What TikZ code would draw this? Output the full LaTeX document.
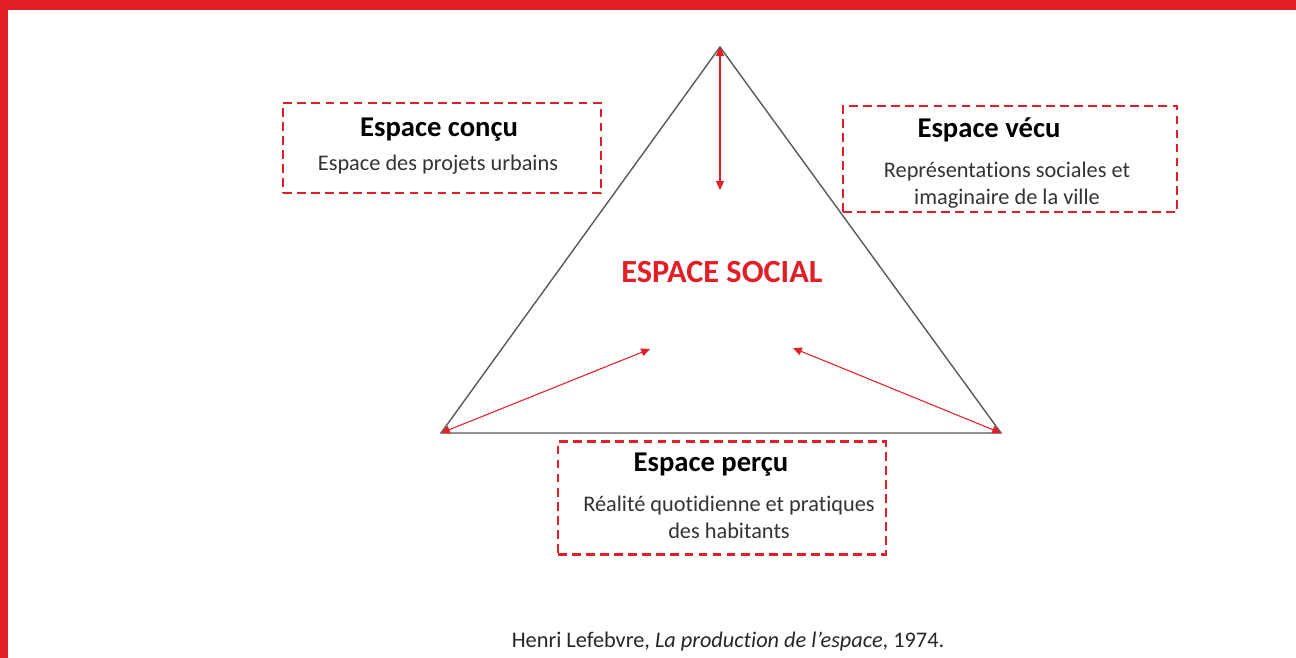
\documentclass[tikz,border=0pt]{standalone}
\usepackage{fontspec}
\setmainfont{Carlito}[Ligatures=NoCommon]
\usetikzlibrary{arrows.meta}

\definecolor{lefred}{HTML}{E21F26}

\begin{document}
\begin{tikzpicture}[x=0.02cm,y=-0.02cm,
    dashbox/.style={draw=lefred,line width=1.4pt,dash pattern=on 5pt off 3pt,
        minimum width=#1, inner sep=0pt},
    boxtitle/.style={font=\fontsize{16.3}{18}\selectfont\bfseries},
    boxtext/.style={font=\fontsize{12.7}{15.4}\selectfont,text=black!80,align=center},
    redarrow/.style={lefred,line width=0.6pt,
        {Triangle[length=5pt,width=4.5pt]}-{Triangle[length=5pt,width=4.5pt]}}]
    \useasboundingbox (0,0) rectangle (1296,658);

    % Draw the red frame
    \fill[lefred] (0,0) rectangle (1296,10);
    \fill[lefred] (0,0) rectangle (8,658);

    % Corners of the triangle
    \coordinate (apex) at (720,47);
    \coordinate (left) at (441,433);
    \coordinate (right) at (1001,433);

    % Draw the triangle
    \draw[gray!70!black,line width=0.8pt] (apex) -- (left) -- (right) -- cycle;

    % Inner ends of the arrows
    \coordinate (apexend) at (720,190);
    \coordinate (leftend) at (650,349);
    \coordinate (rightend) at (793,348);

    % Draw the arrows
    \draw[redarrow] (apex) -- (apexend);
    \draw[redarrow] (left) -- (leftend);
    \draw[redarrow] (right) -- (rightend);

    % Centre label
    \node[text=lefred,font=\fontsize{18.4}{20}\selectfont\bfseries] (social) at (722,272) {ESPACE SOCIAL};

    % Box for the conceived space
    \node[dashbox=318*0.02cm,minimum height=90*0.02cm] (concu) at (442,148) {};
    \node[boxtitle] (concutitle) at (439,130) {Espace conçu};
    \node[boxtext] (concutext) at (438,165) {Espace des projets urbains};

    % Box for the lived space
    \node[dashbox=334*0.02cm,minimum height=106*0.02cm] (vecu) at (1010,159) {};
    \node[boxtitle] (vecutitle) at (989,130) {Espace vécu};
    \node[boxtext] (vecutext) at (1007,185) {Représentations sociales et\\imaginaire de la ville};

    % Box for the perceived space
    \node[dashbox=328*0.02cm,minimum height=113*0.02cm] (percu) at (722,498) {};
    \node[boxtitle] (percutitle) at (711,465) {Espace perçu};
    \node[boxtext] (percutext) at (729,517) {Réalité quotidienne et pratiques\\des habitants};

    % Source
    \node[font=\fontsize{12.7}{14}\selectfont,text=black!85] (source) at (728,642)
        {Henri Lefebvre, \textit{La production de l’espace}, 1974.};
\end{tikzpicture}
\end{document}
